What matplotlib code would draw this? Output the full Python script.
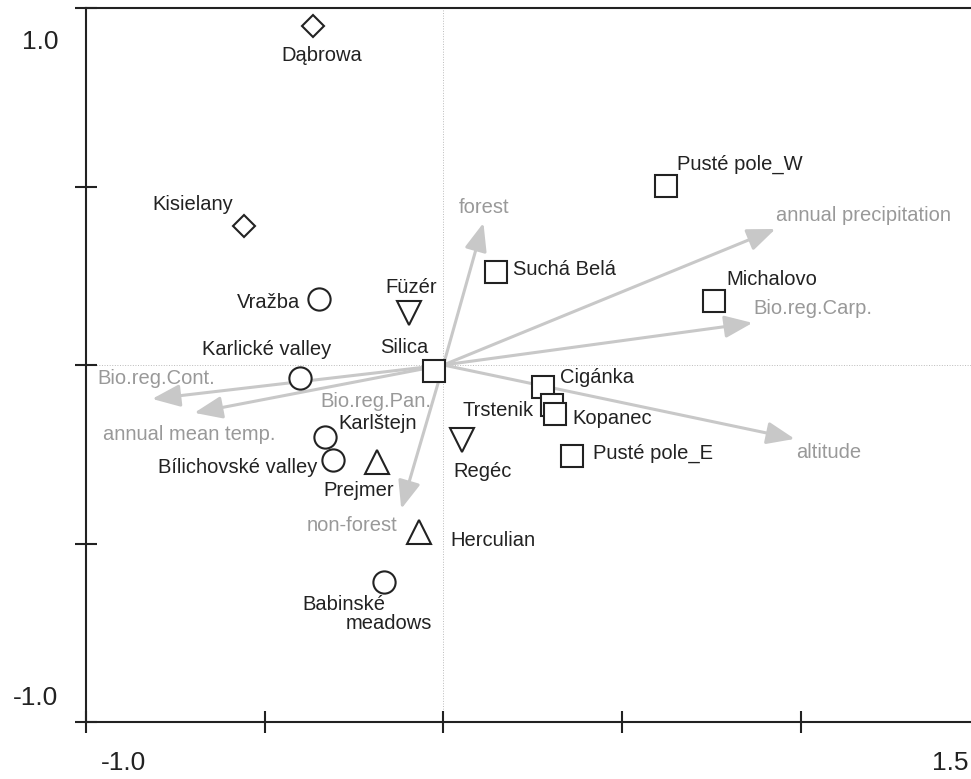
import numpy as np
import matplotlib
matplotlib.use("Agg")
import matplotlib.pyplot as plt

plt.rcParams['font.family'] = ['Liberation Sans', 'DejaVu Sans']

# site scores on the first two ordination axes
sites = ["Dąbrowa", "Kisielany", "Vražba", "Füzér", "Silica", "Karlické valley",
         "Karlštejn", "Bílichovské valley", "Prejmer", "Herculian",
         "Babinské meadows", "Regéc", "Cigánka", "Trstenik", "Kopanec",
         "Pusté pole_E", "Suchá Belá", "Pusté pole_W", "Michalovo"]
ax1 = [-0.364, -0.557, -0.347, -0.095, -0.025, -0.400, -0.330, -0.308, -0.185,
       -0.067, -0.165, 0.053, 0.280, 0.304, 0.312, 0.361, 0.148, 0.624, 0.756]
ax2 = [0.949, 0.389, 0.185, 0.146, -0.017, -0.036, -0.202, -0.266, -0.272,
       -0.468, -0.608, -0.210, -0.062, -0.112, -0.136, -0.255, 0.260, 0.501,
       0.179]
country = ["PL", "PL", "CZ", "HU", "SK", "CZ", "CZ", "CZ", "RO", "RO", "CZ",
           "HU", "SK", "SK", "SK", "SK", "SK", "SK", "SK"]

# environmental variables (arrow tips)
env = ["forest", "annual precipitation", "Bio.reg.Carp.", "altitude",
       "non-forest", "Bio.reg.Cont.", "annual mean temp."]
env1 = [0.112, 0.929, 0.865, 0.983, -0.118, -0.815, -0.697]
env2 = [0.398, 0.381, 0.118, -0.207, -0.403, -0.095, -0.134]
# nominal variable sitting at the centre
pan_label = "Bio.reg.Pan."
pan_xy = (-0.344, -0.101)

markers = {"PL": ("D", 11), "CZ": ("o", 16), "HU": ("v", 17.5),
           "RO": ("^", 17.5), "SK": ("s", 15.5)}

# label offsets in pixels (dx, dy with dy downward), alignment
px = 0.72
site_lab = {
    "Dąbrowa": (8, 29, "center"), "Kisielany": (-52, -22, "center"),
    "Vražba": (-19, 4, "right"), "Füzér": (2, -25, "center"),
    "Silica": (-30, -24, "center"), "Karlické valley": (-34, -28, "center"),
    "Karlštejn": (13, -14, "left"), "Bílichovské valley": (-16, 8, "right"),
    "Prejmer": (-19, 28, "center"), "Herculian": (31, 8, "left"),
    "Regéc": (20, 32, "center"), "Cigánka": (17, -10, "left"),
    "Trstenik": (-18, 6, "right"), "Kopanec": (17, 5, "left"),
    "Pusté pole_E": (21, -3, "left"), "Suchá Belá": (17, -3, "left"),
    "Pusté pole_W": (11, -22, "left"), "Michalovo": (13, -22, "left"),
}
env_lab = {
    "forest": (1, -15, "center"), "annual precipitation": (1, -13, "left"),
    "Bio.reg.Carp.": (1, -14, "left"), "altitude": (1, 14, "left"),
    "non-forest": (-4, 17, "right"), "Bio.reg.Cont.": (-55, -20, "left"),
    "annual mean temp.": (-91, 22, "left"),
}

dark = "#222222"
grey_txt = "#999999"
grey_arr = "#c8c8c8"
fs = 14.5

fig = plt.figure(figsize=(9.71, 7.79), dpi=100)
ax = fig.add_axes([86 / 971, 57 / 779, 893.5 / 971, 714 / 779])
ax.set_xlim(-1.0, 1.5)
ax.set_ylim(-1.0, 1.0)

ax.axhline(0, color="#bbbbbb", lw=0.7, ls=":", zorder=0)
ax.axvline(0, color="#bbbbbb", lw=0.7, ls=":", zorder=0)

for name, ex, ey in zip(env, env1, env2):
    ax.annotate("", xy=(ex, ey), xytext=(0, 0),
                arrowprops=dict(arrowstyle="-|>,head_length=1.0,head_width=0.4",
                                color=grey_arr, lw=2.2, mutation_scale=17,
                                shrinkA=0, shrinkB=0), zorder=1)
    dx, dy, ha = env_lab[name]
    ax.annotate(name, xy=(ex, ey), xytext=(dx * px, -dy * px),
                textcoords="offset points", ha=ha, va="center",
                fontsize=fs, color=grey_txt, zorder=5)
ax.text(pan_xy[0], pan_xy[1], pan_label, ha="left", va="center",
        fontsize=fs, color=grey_txt, zorder=5)

for name, x, y, c in zip(sites, ax1, ax2, country):
    m, ms = markers[c]
    ax.plot(x, y, marker=m, ms=ms, mfc="white", mec=dark, mew=1.5,
            ls="none", zorder=3)
    if name == "Babinské meadows":
        # two-line label, second line shifted right
        ax.annotate("Babinské", xy=(x, y), xytext=(-82 * px, -22 * px),
                    textcoords="offset points", ha="left", va="center",
                    fontsize=fs, color=dark, zorder=5)
        ax.annotate("meadows", xy=(x, y), xytext=(48 * px, -41 * px),
                    textcoords="offset points", ha="right", va="center",
                    fontsize=fs, color=dark, zorder=5)
        continue
    dx, dy, ha = site_lab[name]
    ax.annotate(name, xy=(x, y), xytext=(dx * px, -dy * px),
                textcoords="offset points", ha=ha, va="center",
                fontsize=fs, color=dark, zorder=5)

# axes frame in the CANOCO style
for s in ["left", "bottom", "top"]:
    ax.spines[s].set_color(dark)
    ax.spines[s].set_linewidth(1.5)
ax.spines["right"].set_visible(False)
ax.set_xticks([-1.0, -0.5, 0, 0.5, 1.0, 1.5])
ax.set_yticks([-1.0, -0.5, 0, 0.5, 1.0])
ax.set_xticklabels([])
ax.set_yticklabels([])
ax.tick_params(direction="inout", length=16, width=1.5, color=dark)

tk = dict(textcoords="offset points", fontsize=19, color=dark,
          ha="center", va="center", annotation_clip=False)
ax.annotate("1.0", xy=(-1.0, 1.0), xytext=(-46 * px, -34 * px), **tk)
ax.annotate("-1.0", xy=(-1.0, -1.0), xytext=(-50 * px, 24 * px), **tk)
ax.annotate("-1.0", xy=(-1.0, -1.0), xytext=(37 * px, -41 * px), **tk)
ax.annotate("1.5", xy=(1.5, -1.0), xytext=(-29.5 * px, -41 * px), **tk)

fig.savefig("out.png", dpi=100)
